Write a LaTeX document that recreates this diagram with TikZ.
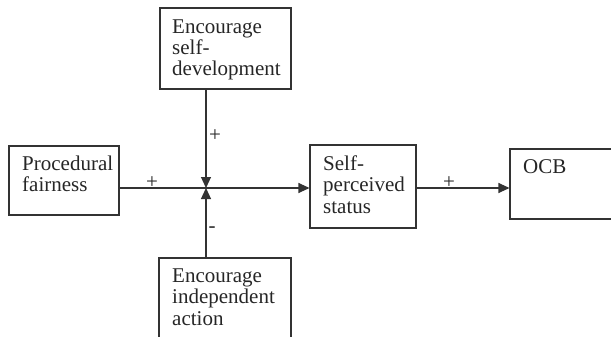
\documentclass[tikz,border=0pt]{standalone}
\usepackage{fontspec}
\setmainfont{Liberation Serif}
\usetikzlibrary{arrows.meta}
\begin{document}
\begin{tikzpicture}[x=1pt,y=-1pt,
  box/.style={draw=black!80, line width=1.1pt, rectangle, inner sep=0pt},
  txt/.style={font=\fontsize{21}{21.5}\selectfont, align=left, inner sep=0pt, text=black!85, anchor=base west},
  sign/.style={font=\fontsize{21}{21}\selectfont, inner sep=0pt, text=black!85},
  conn/.style={draw=black!80, line width=1.1pt, -{Triangle[length=11pt,width=10pt]}}]
\useasboundingbox (0,0) rectangle (611,337);
\begin{scope}
\clip (0,0) rectangle (611,337);
\node[box, minimum width=131pt, minimum height=81pt] (enc1) at (225.5,48.5) {};
\node[box, minimum width=110pt, minimum height=69pt] (proc) at (64,180.5) {};
\node[box, minimum width=106pt, minimum height=83pt] (self) at (363,186.5) {};
\node[box, minimum width=130pt, minimum height=70pt] (ocb) at (575,184) {};
\node[box, minimum width=132pt, minimum height=102pt] (enc2) at (225,309) {};
\end{scope}
\node[txt] (t1) at (172,76) {Encourage\\self-\\development};
\node[txt] (t2) at (22,191.5) {Procedural\\fairness};
\node[txt] (t3) at (323,213) {Self-\\perceived\\status};
\node[txt] (t4) at (523,173) {OCB};
\node[txt] (t5) at (172,325) {Encourage\\independent\\action};
\coordinate (J) at (206,188);
\draw[conn] (J |- enc1.south) -- (J);
\draw[conn] (J |- enc2.north) -- (J);
\draw[conn] (proc.east |- J) -- (self.west |- J);
\draw[conn] (self.east |- J) -- (ocb.west |- J);
\node[sign] (p1) at (215,136) {+};
\node[sign] (p2) at (152,183) {+};
\node[sign] (m1) at (212,230) {-};
\node[sign] (p3) at (449,183) {+};
\end{tikzpicture}
\end{document}
